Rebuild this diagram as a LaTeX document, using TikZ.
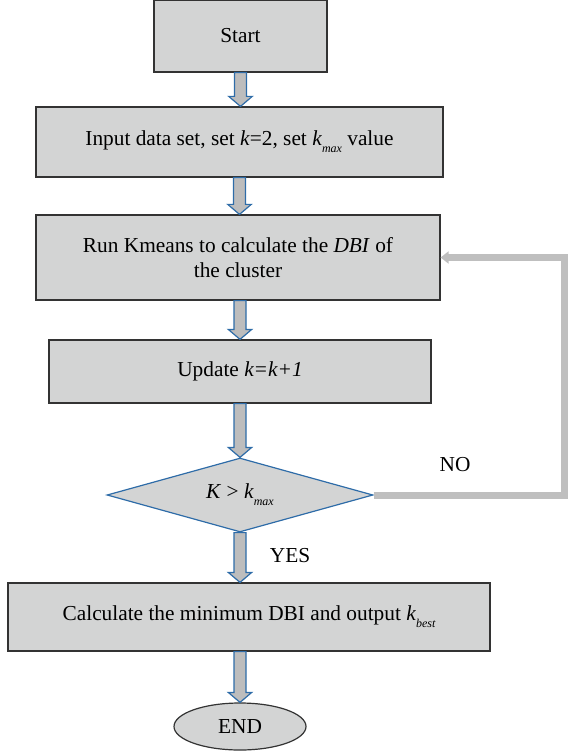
\documentclass[tikz,border=0pt]{standalone}
\usepackage{fontspec}
\setmainfont{Liberation Serif}
\usetikzlibrary{positioning, arrows.meta, shapes.geometric, calc}
\definecolor{boxgray}{HTML}{D3D4D4}
\definecolor{arrowgray}{HTML}{BDBDBD}
\definecolor{arrowblue}{HTML}{2E6CA8}
\definecolor{loopgray}{HTML}{BFBFBF}
\newcommand{\lowsub}[1]{\raisebox{-0.7ex}{\fontsize{9}{9}\selectfont\itshape #1}}

\begin{document}
\begin{tikzpicture}[x=0.75pt, y=-0.75pt, every node/.style={font=\fontsize{16}{19}\selectfont},
    procbox/.style={rectangle, draw=black!80, line width=0.9pt, fill=boxgray, inner sep=0pt, align=center},
    blockarrow/.style={draw=arrowblue, line width=0.9pt, fill=arrowgray,
        to path={let \p1=(\tikztostart), \p2=(\tikztotarget) in
            (\x1-4.5pt,\y1) -- (\x1-4.5pt,\y2+7.5pt) -- (\x1-8.8pt,\y2+7.5pt) -- (\x1,\y2)
            -- (\x1+8.8pt,\y2+7.5pt) -- (\x1+4.5pt,\y2+7.5pt) -- (\x1+4.5pt,\y1) -- cycle}},
    loopline/.style={draw=loopgray, line width=5.25pt, -{Triangle[length=6pt, width=9pt]}}]
        \useasboundingbox (0,0) rectangle (571,752);
        \node[procbox, minimum width=129.75pt, minimum height=54pt] (start) at (240.5,36) {Start};
        \node[procbox, minimum width=305.25pt, minimum height=52.5pt] (input) at (239.5,142) {Input data set, set \textit{k}=2, set \textit{k}\lowsub{max} value};
        \node[procbox, minimum width=303pt, minimum height=63.75pt] (run) at (238,257.5) {Run Kmeans to calculate the \textit{DBI} of\\the cluster};
        \node[procbox, minimum width=286.5pt, minimum height=47.25pt] (update) at (240,371.5) {Update \textit{k=k+1}};
        \node[diamond, aspect=3.6, draw=arrowblue, line width=0.9pt, fill=boxgray, inner sep=0pt, minimum width=199.5pt, minimum height=55.5pt] (check) at (240,495) {\textit{K} > \textit{k}\lowsub{max}};
        \node[procbox, minimum width=361.5pt, minimum height=51pt] (calc) at (249,617) {Calculate the minimum DBI and output \textit{k}\lowsub{best}};
        \node[ellipse, draw=black!80, line width=0.9pt, fill=boxgray, inner sep=0pt, minimum width=99pt, minimum height=35.25pt] (finish) at (240,726.5) {END};
        \node (yes) at (290,556) {YES};
        \node (no) at (455,465) {NO};
        % Arrows between steps
        \draw[blockarrow] (start.south) to (input.north);
        \draw[blockarrow] (input.south) to (run.north);
        \draw[blockarrow] (run.south -| check.north) to (update.north);
        \draw[blockarrow] (update.south) to (check.north);
        \draw[blockarrow] (check.south) to (calc.north -| check.south);
        \draw[blockarrow] (calc.south -| finish.north) to (finish.north);
        % Loop back when k is not yet large enough
        \draw[loopline] (check.east) -- ++(191,0) |- (run.east);
    \end{tikzpicture}
\end{document}
